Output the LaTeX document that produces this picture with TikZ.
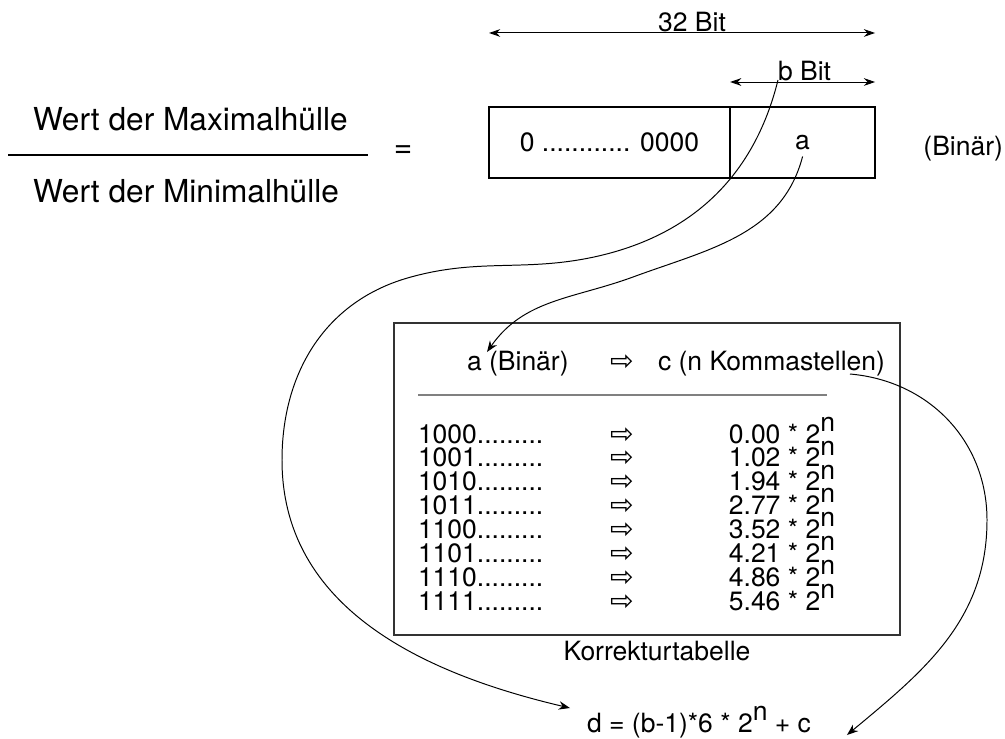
\documentclass[tikz,border=0pt]{standalone}
\usepackage{fontspec}
\setmainfont{TeX Gyre Heros}
\newfontfamily\symf{DejaVu Sans}
\usetikzlibrary{arrows.meta}
\newcommand{\potn}{2\raisebox{8.3pt}{n}}
\newcommand{\korrrow}[4]{%
 \node[txt, anchor=base west] (#1bits) at (418,#2) {#3.........};%
 \node[pfeil, anchor=base] (#1arr) at (622,#2) {⇨};%
 \node[txt, anchor=base east] (#1val) at (835,#2) {#4 * \potn};%
}

\begin{document}
\begin{tikzpicture}[x=0.025cm, y=-0.025cm,
  every node/.style={inner sep=0pt, outer sep=0pt},
  txt/.style={font=\fontsize{18.85}{22}\selectfont},
  big/.style={font=\fontsize{22.5}{27}\selectfont},
  pfeil/.style={font=\symf\fontsize{20}{22}\selectfont},
  field/.style={draw, line width=1.6pt, minimum height=1.775cm, txt},
  dim/.style={{Stealth[length=8pt,width=5.5pt]}-{Stealth[length=8pt,width=5.5pt]}, line width=0.7pt},
  link/.style={-{Stealth[length=8pt,width=6pt]}, line width=0.7pt}]
  \useasboundingbox (0,0) rectangle (1005,738);
  % Bruch
  \node[big, anchor=base west] (maxh) at (33,130) {Wert der Maximalhülle};
  \node[big, anchor=base west] (minh) at (33,202) {Wert der Minimalhülle};
  \draw[line width=1.6pt] (8,155) -- (368,155);
  \node[big, anchor=base] (gleich) at (403,157) {=};
  % 32-Bit-Wort
  \node[field, minimum width=6.025cm, anchor=north west] (zeros) at (489,107) {0 ............ 0000};
  \node[field, minimum width=3.625cm, anchor=north west] (abits) at (zeros.north east) {a};
  \node[txt, anchor=base east] (binaer) at (1003,155) {(Binär)};
  \node[txt, anchor=base] (wort) at (692,31) {32 Bit};
  \node[txt, anchor=base west] (bbit) at (778,80) {b Bit};
  \draw[dim] ([yshift=1.85cm]zeros.north west) -- ([yshift=1.85cm]abits.north east);
  \draw[dim] ([yshift=0.625cm]abits.north west) -- ([yshift=0.625cm]abits.north east);
  % Korrekturtabelle
  \node[draw=black!80, line width=1pt, minimum width=12.65cm, minimum height=7.8cm, anchor=north west] (tabelle) at (394,323) {};
  \node[txt, anchor=base west] (ahdr) at (467,370) {a (Binär)};
  \node[pfeil, anchor=base] (hdrarr) at (622,370) {⇨};
  \node[txt, anchor=base west] (chdr) at (658,370) {c (n Kommastellen)};
  \draw[black!50, line width=1.2pt] (418,395) -- (827,395);
  \korrrow{r1}{443}{1000}{0.00}
  \korrrow{r2}{466.9}{1001}{1.02}
  \korrrow{r3}{490.7}{1010}{1.94}
  \korrrow{r4}{514.6}{1011}{2.77}
  \korrrow{r5}{538.4}{1100}{3.52}
  \korrrow{r6}{562.3}{1101}{4.21}
  \korrrow{r7}{586.1}{1110}{4.86}
  \korrrow{r8}{610}{1111}{5.46}
  \node[txt, anchor=base] (titel) at (657,660) {Korrekturtabelle};
  \node[txt, anchor=base west] (dval) at (587,732) {d = (b-1)*6 * \potn{} + c};
  % Verweise
  \draw[link] (bbit.base west) .. controls (754,177) and (691,236) .. (594,257)
    .. controls (524,272) and (480,258) .. (411,277)
    .. controls (326,300) and (282,372) .. (282,460)
    .. controls (282,609) and (425,674) .. ([shift={(-17,-24)}]dval.base west);
  \draw[link] ([shift={(0,14)}]abits.center) .. controls (782,235) and (709,249) .. (633,277)
    .. controls (573,299) and (524,299) .. ([shift={(20,-18)}]ahdr.base west);
  \draw[link] ([shift={(-35,4)}]chdr.base east) .. controls (930,381) and (987,442) .. (987,520)
    .. controls (987,620) and (924,671) .. ([shift={(36,3)}]dval.base east);
\end{tikzpicture}
\end{document}
